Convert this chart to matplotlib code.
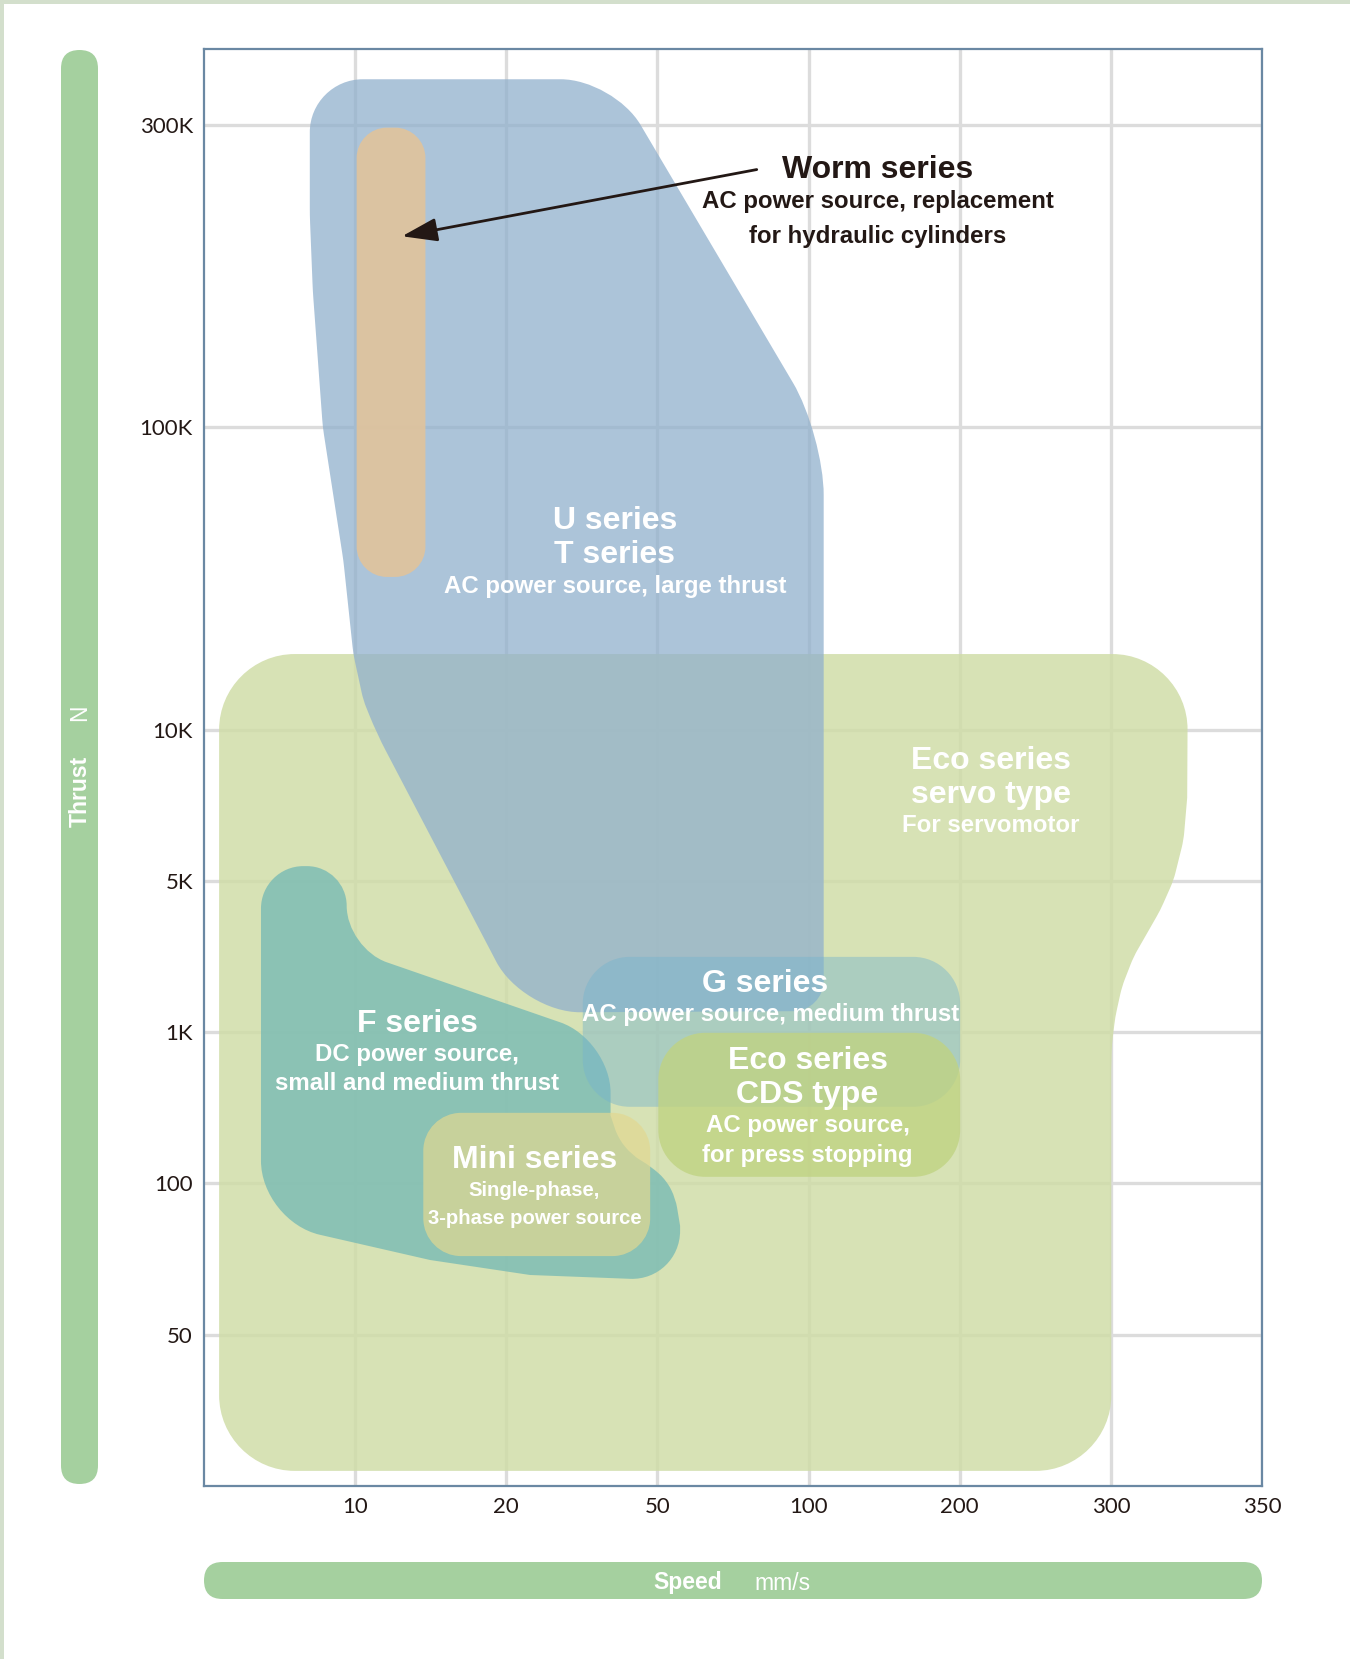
import numpy as np
import matplotlib
matplotlib.use('Agg')
import matplotlib.pyplot as plt
from matplotlib.path import Path
from matplotlib.patches import PathPatch, FancyBboxPatch, Rectangle

# axis ticks (the chart uses an uneven, hand-made scale)
SPEED_LABELS = ['10', '20', '50', '100', '200', '300', '350']
SPEED_POS = [1, 2, 3, 4, 5, 6, 7]
THRUST_LABELS = ['50', '100', '1K', '5K', '10K', '100K', '300K']
THRUST_POS = [1, 2, 3, 4, 5, 7, 9]

# product ranges, outlines in grid units (x = speed grid, y = thrust grid)
SERVO_X = [0.10, 6.51, 6.505, 6.481, 6.415, 6.327, 6.239, 6.150, 6.073, 6.029, 6.007, 6.003, 6.003, 0.10]
SERVO_Y = [5.50, 5.50, 4.55, 4.27, 4.005, 3.807, 3.653, 3.498, 3.30, 3.10, 2.92, 2.75, 0.10, 0.10]

UT_X = [0.70, 2.71, 4.10, 4.10, 2.11, 1.143, 1.054, 0.988, 0.922, 0.786, 0.72, 0.70]
UT_Y = [9.30, 9.30, 6.95, 3.14, 3.13, 4.975, 5.195, 5.50, 6.12, 7.00, 7.90, 8.40]

WORM_X = [1.01, 1.465, 1.465, 1.01]
WORM_Y = [8.98, 8.98, 6.01, 6.01]

F_X = [0.377, 0.944, 0.944, 2.69, 2.69, 2.74, 2.83, 2.96, 3.06, 3.12, 3.15, 3.15, 2.157, 1.496, 0.377]
F_Y = [4.098, 4.098, 3.554, 2.95, 2.45, 2.30, 2.19, 2.11, 2.02, 1.90, 1.72, 1.357, 1.395, 1.494, 1.75]

G_X = [2.506, 5.003, 5.003, 2.506]
G_Y = [3.498, 3.498, 2.507, 2.507]

CDS_X = [3.006, 5.003, 5.003, 3.006]
CDS_Y = [2.996, 2.996, 2.044, 2.044]

MINI_X = [1.451, 2.952, 2.952, 1.451]
MINI_Y = [2.467, 2.467, 1.520, 1.520]

WORM_TEXT = ['Worm series', 'AC power source, replacement', 'for hydraulic cylinders']
UT_TEXT = ['U series', 'T series', 'AC power source, large thrust']
SERVO_TEXT = ['Eco series', 'servo type', 'For servomotor']
G_TEXT = ['G series', 'AC power source, medium thrust']
CDS_TEXT = ['Eco series', 'CDS type', 'AC power source,', 'for press stopping']
F_TEXT = ['F series', 'DC power source,', 'small and medium thrust']
MINI_TEXT = ['Mini series', 'Single-phase,', '3-phase power source']


def rounded_path(xs, ys, rads):
    pts = np.column_stack([xs, ys]).astype(float)
    n = len(pts)
    verts, codes = [], []
    k = 0.55
    for i in range(n):
        p, a, b = pts[i], pts[i - 1], pts[(i + 1) % n]
        r = rads[i]
        if r <= 0:
            verts.append(p)
            codes.append(Path.LINETO)
            continue
        l1, l2 = np.hypot(*(a - p)), np.hypot(*(b - p))
        rp, rn = rads[i - 1], rads[(i + 1) % n]
        r = min(r, l1 * r / (r + rp), l2 * r / (r + rn))
        s = p + (a - p) / l1 * r
        e = p + (b - p) / l2 * r
        verts += [s, s + (p - s) * k, e + (p - e) * k, e]
        codes += [Path.LINETO, Path.CURVE4, Path.CURVE4, Path.CURVE4]
    codes[0] = Path.MOVETO
    verts.append(verts[0])
    codes.append(Path.CLOSEPOLY)
    return Path(verts, codes)


def region(ax, xs, ys, rads, color, alpha, z):
    ax.add_patch(PathPatch(rounded_path(xs, ys, rads), facecolor=color,
                           edgecolor='none', alpha=alpha, zorder=z))


def label(ax, x, y, txt, size, color='white', family='Liberation Sans'):
    # small downward nudge so the visual centre sits where it is in the source
    ax.text(x, y - 0.02, txt, ha='center', va='center', fontsize=size,
            fontweight='bold', color=color, family=family, zorder=10)


fig = plt.figure(figsize=(13.5, 16.59), dpi=100)
W, H = 1350, 1659

# pale frame on top and left edges
fig.add_artist(Rectangle((0, 16.55), 13.5, 0.05, transform=fig.dpi_scale_trans,
                         color='#d3dfcc', lw=0))
fig.add_artist(Rectangle((0, 0), 0.04, 16.59, transform=fig.dpi_scale_trans,
                         color='#d3dfcc', lw=0))

# green title bars
bar = '#a5d09f'
fig.add_artist(FancyBboxPatch((0.61, 1.75), 0.37, 14.34, transform=fig.dpi_scale_trans,
                              boxstyle='round,pad=0,rounding_size=0.185', fc=bar, ec='none'))
fig.add_artist(FancyBboxPatch((2.04, 0.60), 10.58, 0.37, transform=fig.dpi_scale_trans,
                              boxstyle='round,pad=0,rounding_size=0.185', fc=bar, ec='none'))
fig.text(80 / W, 1 - 791 / H, 'Thrust', rotation=90, ha='center', va='center',
         fontsize=16.5, fontweight='bold', color='white', family='Liberation Sans')
fig.text(80 / W, 1 - 713 / H, 'N', rotation=90, ha='center', va='center',
         fontsize=16.5, color='white', family='Liberation Sans')
fig.text(688 / W, 1 - 1583 / H, 'Speed', ha='center', va='center',
         fontsize=16.5, fontweight='bold', color='white', family='Liberation Sans')
fig.text(782 / W, 1 - 1583 / H, 'mm/s', ha='center', va='center',
         fontsize=16.5, color='white', family='Liberation Sans')

ax = fig.add_axes([204 / W, (H - 1486) / H, 1058 / W, 1437 / H])
ax.set_xlim(0, 7)
ax.set_ylim(0, 9.5)
ax.set_xticks(SPEED_POS)
ax.set_xticklabels(SPEED_LABELS)
ax.set_yticks(THRUST_POS)
ax.set_yticklabels(THRUST_LABELS)
ax.tick_params(length=0, labelsize=16, labelcolor='#231815', pad=8)
for t in ax.get_xticklabels() + ax.get_yticklabels():
    t.set_family('Lato')
ax.grid(True, color='#dcdcdc', lw=2.4)
ax.set_axisbelow(True)
for s in ax.spines.values():
    s.set_color('#6a88a3')
    s.set_linewidth(1.6)

region(ax, SERVO_X, SERVO_Y, [0.5, 0.5, 0, 0.05, 0.05, 0.05, 0.05, 0.05, 0.05, 0.05, 0.05, 0, 0.5, 0.5],
       '#d0dda8', 0.85, 1)
region(ax, UT_X, UT_Y, [0.35, 0.35, 0.4, 0.2, 0.38, 0.12, 0.05, 0.05, 0.05, 0.05, 0.05, 0.05],
       '#91b0cd', 0.75, 2)
region(ax, WORM_X, WORM_Y, [0.2] * 4, '#e1c39b', 0.9, 3)
region(ax, F_X, F_Y, [0.28, 0.28, 0.3, 0.35, 0, 0.06, 0.06, 0.06, 0.06, 0.06, 0, 0.33, 0, 0, 0.4],
       '#7ebdb4', 0.85, 3)
region(ax, G_X, G_Y, [0.31] * 4, '#76b4cd', 0.45, 4)
region(ax, CDS_X, CDS_Y, [0.31] * 4, '#c0d382', 0.8, 5)
region(ax, MINI_X, MINI_Y, [0.25] * 4, '#e2d891', 0.7, 5)

# labels
dark = '#231815'
big, small = 23, 17.3
label(ax, 4.46, 8.717, WORM_TEXT[0], big, dark)
label(ax, 4.46, 8.514, WORM_TEXT[1], small, dark)
label(ax, 4.46, 8.283, WORM_TEXT[2], small, dark)
ax.annotate('', xy=(1.31, 8.262), xytext=(3.657, 8.703),
            arrowprops=dict(arrowstyle='-|>,head_length=1.8,head_width=0.6',
                            mutation_scale=12, lw=2, color=dark, shrinkA=0, shrinkB=0),
            zorder=10)

label(ax, 2.718, 6.402, UT_TEXT[0], big)
label(ax, 2.718, 6.178, UT_TEXT[1], big)
label(ax, 2.718, 5.968, UT_TEXT[2], small)

label(ax, 5.204, 4.815, SERVO_TEXT[0], big)
label(ax, 5.204, 4.591, SERVO_TEXT[1], big)
label(ax, 5.204, 4.388, SERVO_TEXT[2], small)

label(ax, 3.712, 3.339, G_TEXT[0], big)
label(ax, 3.746, 3.137, G_TEXT[1], small)

label(ax, 3.993, 2.829, CDS_TEXT[0], big)
label(ax, 3.993, 2.605, CDS_TEXT[1], big)
label(ax, 3.993, 2.402, CDS_TEXT[2], small)
label(ax, 3.993, 2.206, CDS_TEXT[3], small)

label(ax, 1.409, 3.073, F_TEXT[0], big)
label(ax, 1.409, 2.870, F_TEXT[1], small)
label(ax, 1.409, 2.682, F_TEXT[2], small)

label(ax, 2.186, 2.178, MINI_TEXT[0], big)
label(ax, 2.186, 1.976, MINI_TEXT[1], 14.6)
label(ax, 2.186, 1.787, MINI_TEXT[2], 14.6)

fig.savefig('out.png', dpi=100)
